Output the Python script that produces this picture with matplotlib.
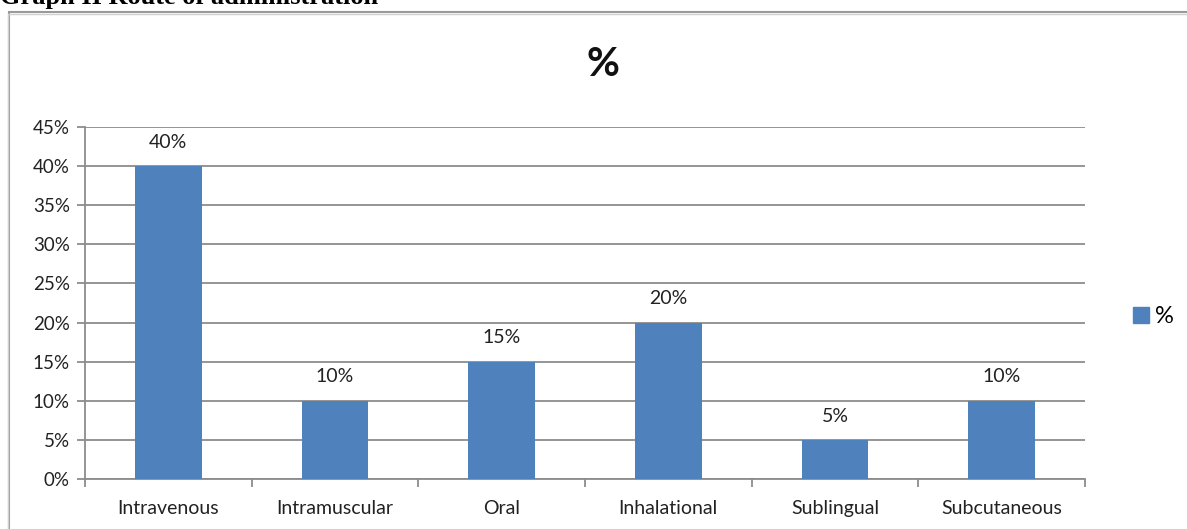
import matplotlib
matplotlib.use("Agg")
import matplotlib.pyplot as plt
from matplotlib.patches import Rectangle
from matplotlib.ticker import FixedLocator, PercentFormatter
import numpy as np

categories = ["Intravenous", "Intramuscular", "Oral", "Inhalational", "Sublingual", "Subcutaneous"]
values = [40, 10, 15, 20, 5, 10]
yticks = [0, 5, 10, 15, 20, 25, 30, 35, 40, 45]

W, H = 1187, 529
fig = plt.figure(figsize=(W / 100, H / 100), dpi=100)
plt.rcParams['font.family'] = ['Lato', 'DejaVu Sans']

# outer frame (chart area border)
frame = Rectangle((9 / W, -0.1), 1.2, 1 - 12 / H + 0.1, transform=fig.transFigure,
                  fill=False, edgecolor="#9a9a9a", linewidth=1.5, zorder=0)
fig.patches.append(frame)
frame2 = Rectangle((7.5 / W, -0.1), 1.2, 1 - 13.5 / H + 0.1, transform=fig.transFigure,
                   fill=False, edgecolor="#d0d0d0", linewidth=1.0, zorder=0)
fig.patches.append(frame2)

fig.text(0.0, 1 - 4 / H, "Graph II Route of administration", family="Liberation Serif",
         fontweight="bold", fontsize=19, ha="left", va="baseline")

ax = fig.add_axes([85 / W, (H - 479) / H, 1000 / W, (479 - 127) / H])
x = np.arange(len(categories))
bars = ax.bar(x, values, width=0.4, color="#4F81BD", zorder=3)
ax.set_xlim(-0.5, len(categories) - 0.5)
ax.set_ylim(0, 45)
ax.yaxis.set_major_locator(FixedLocator(yticks))
ax.yaxis.set_major_formatter(PercentFormatter(decimals=0))
ax.grid(axis="y", color="#8c8c8c", linewidth=1.3, zorder=0)
ax.set_axisbelow(True)
for s in ["top", "right"]:
    ax.spines[s].set_visible(False)
for s in ["left", "bottom"]:
    ax.spines[s].set_color("#8c8c8c")
    ax.spines[s].set_linewidth(1.3)

ax.set_xticks(x)
ax.set_xticklabels(categories, fontsize=14, color="#222222")
ax.tick_params(axis="x", length=0, pad=15)
ax.set_xticks(np.arange(-0.5, len(categories), 1.0), minor=True)
ax.tick_params(axis="x", which="minor", length=6, color="#8c8c8c", width=1.3)
ax.tick_params(axis="y", length=6, color="#8c8c8c", width=1.3, labelsize=13.5,
               labelcolor="#222222", pad=5)

for b, v in zip(bars, values):
    ax.annotate(f"{v}%", (b.get_x() + b.get_width() / 2, v), xytext=(0, 11),
                textcoords="offset points", ha="center", va="bottom",
                fontsize=14, color="#222222")

fig.text(603 / W, 1 - 65 / H, "%", fontsize=29, fontweight="bold", ha="center",
         va="center", color="#111111")

# legend
handle = Rectangle((0, 0), 1, 1, color="#4F81BD")
fig.legend([handle], ["%"], loc="center left", bbox_to_anchor=(1124 / W, 1 - 317 / H),
           frameon=False, fontsize=17, handlelength=0.65, handleheight=0.65,
           handletextpad=0.25, borderaxespad=0)

fig.savefig("out.png", dpi=100)
